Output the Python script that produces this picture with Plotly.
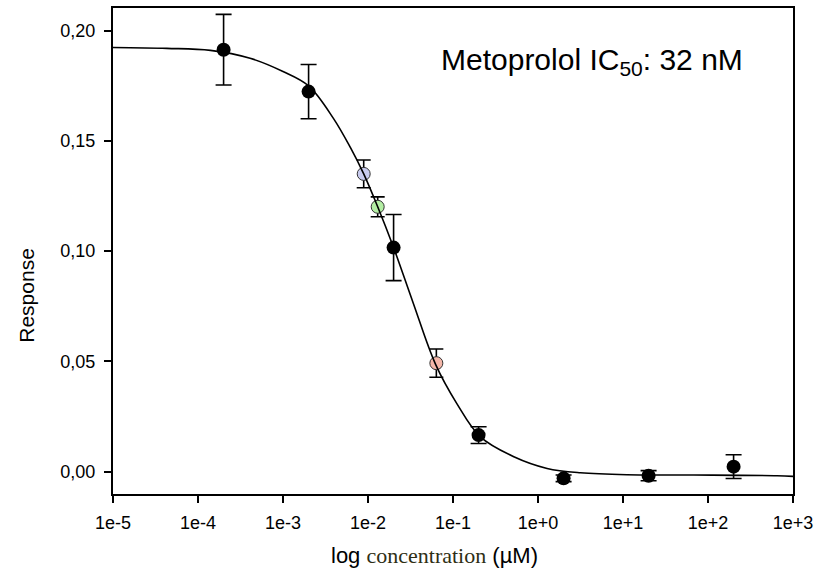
import plotly.graph_objects as go

# ---- data ----
conc_black = [2e-4, 2e-3, 2e-2, 2e-1, 2, 20, 200]
resp_black = [0.1913, 0.1723, 0.1016, 0.0166, -0.0030, -0.0018, 0.0023]
err_black = [0.016, 0.0123, 0.015, 0.0038, 0.0015, 0.0023, 0.0054]

conc_colored = [0.0089, 0.013, 0.0637]
resp_colored = [0.135, 0.1201, 0.0492]
err_colored = [0.0063, 0.0045, 0.0064]
colors_colored = ["#c8cbef", "#b3eea3", "#f4b7a9"]

curve_conc = [1e-5, 4.3e-5, 1.4e-4, 4.1e-4, 1.0e-3, 2.0e-3, 3.9e-3, 6.2e-3, 8.9e-3,
              1.3e-2, 2.0e-2, 3.4e-2, 6.2e-2, 0.111, 0.21, 0.52, 1.28, 3.15, 11.1,
              67.8, 649, 1000]
curve_resp = [0.1923, 0.1919, 0.1910, 0.1874, 0.1814, 0.1749, 0.1603, 0.1470, 0.1350,
              0.1201, 0.1016, 0.0765, 0.0489, 0.0309, 0.0158, 0.0068, 0.0015, -0.0005,
              -0.0014, -0.0015, -0.0018, -0.0021]

x_tickvals = [1e-5, 1e-4, 1e-3, 1e-2, 1e-1, 1e0, 1e1, 1e2, 1e3]
x_ticktext = ["1e-5", "1e-4", "1e-3", "1e-2", "1e-1", "1e+0", "1e+1", "1e+2", "1e+3"]
y_tickvals = [0.0, 0.05, 0.10, 0.15, 0.20]
y_ticktext = ["0,00", "0,05", "0,10", "0,15", "0,20"]

FONT = "Liberation Sans, Arial, sans-serif"

fig = go.Figure()

fig.add_trace(go.Scatter(
    x=conc_colored, y=resp_colored, mode="markers",
    marker=dict(size=13, color=colors_colored, line=dict(color="#333333", width=1)),
    error_y=dict(type="data", array=err_colored, color="black", thickness=1.6, width=7),
    showlegend=False, hoverinfo="skip"))

fig.add_trace(go.Scatter(
    x=curve_conc, y=curve_resp, mode="lines",
    line=dict(color="black", width=1.6, shape="spline", smoothing=1.0),
    showlegend=False, hoverinfo="skip"))

fig.add_trace(go.Scatter(
    x=conc_black, y=resp_black, mode="markers",
    marker=dict(size=14, color="black", line=dict(color="black", width=0)),
    error_y=dict(type="data", array=err_black, color="black", thickness=1.6, width=8),
    showlegend=False, hoverinfo="skip"))

fig.update_layout(
    width=833, height=576,
    margin=dict(l=113, r=40, t=6, b=82),
    paper_bgcolor="white", plot_bgcolor="white",
    font=dict(family=FONT, color="black", size=18),
    xaxis=dict(type="log", range=[-5, 3], tickvals=x_tickvals, ticktext=x_ticktext,
               showgrid=False, zeroline=False, showline=True, linecolor="black",
               linewidth=2, mirror=True, ticks="outside", ticklen=7, tickwidth=1.6,
               tickcolor="black", ticklabelstandoff=4,
               tickfont=dict(family=FONT, size=18)),
    yaxis=dict(range=[-0.0101, 0.2102], tickvals=y_tickvals, ticktext=y_ticktext,
               showgrid=False, zeroline=False, showline=True, linecolor="black",
               linewidth=2, mirror=True, ticks="outside", ticklen=7, tickwidth=1.6,
               tickcolor="black", ticklabelstandoff=5,
               tickfont=dict(family=FONT, size=18)),
    annotations=[
        dict(text="Metoprolol IC<sub>50</sub>: 32 nM", xref="paper", yref="paper",
             x=0.704, y=0.889, xanchor="center", yanchor="middle", showarrow=False,
             font=dict(family=FONT, size=30, color="black")),
        dict(text="Response", xref="paper", yref="paper", x=-0.1265, y=0.41,
             xanchor="center", yanchor="middle", textangle=-90, showarrow=False,
             font=dict(family=FONT, size=21, color="black")),
        dict(text="log <span style='font-family:\"Liberation Serif\", \"Times New Roman\", serif; color:#2e2e14'>concentration</span> (µM)",
             xref="paper", yref="paper", x=0.4735, y=-0.127,
             xanchor="center", yanchor="middle", showarrow=False,
             font=dict(family=FONT, size=22, color="black")),
    ],
)

fig.write_html("out.html")
